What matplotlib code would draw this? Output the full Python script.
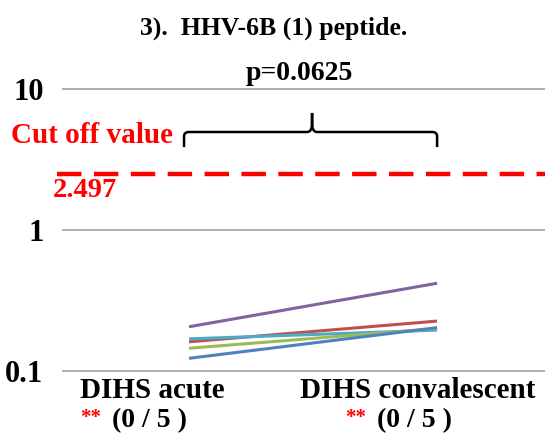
import numpy as np
import matplotlib
matplotlib.use("Agg")
import matplotlib.pyplot as plt
from matplotlib.path import Path
from matplotlib.patches import PathPatch
from matplotlib.transforms import blended_transform_factory

# data
categories = ["DIHS acute", "DIHS convalescent"]
counts = ["(0 / 5 )", "(0 / 5 )"]
acute = [0.206, 0.161, 0.169, 0.145, 0.123]
convalescent = [0.419, 0.226, 0.195, 0.200, 0.203]
colors = ["#8064A2", "#C0504D", "#4BACC6", "#9BBB59", "#4F81BD"]
cutoff = 2.497
p_value = 0.0625
yticks = [0.1, 1, 10]
ytick_labels = ["0.1", "1", "10"]

W, H = 545, 440
plt.rcParams['font.family'] = ['Liberation Serif', 'DejaVu Serif']
plt.rcParams['font.weight'] = 'bold'


def px(x, y):
    return x / W, 1 - y / H


fig = plt.figure(figsize=(W / 100, H / 100), dpi=100)
ax = fig.add_axes([63 / W, 1 - 371 / H, (W - 63) / W, (371 - 89) / H])
ax.set_yscale('log')
ax.set_ylim(0.1, 10)
ax.set_xlim(-0.508, 1.435)
for s in ax.spines.values():
    s.set_visible(False)
ax.set_xticks([])
ax.set_yticks(yticks)
ax.set_yticklabels(ytick_labels)
ax.yaxis.set_minor_locator(matplotlib.ticker.NullLocator())
ax.tick_params(axis='y', length=0, pad=14, labelsize=22)

# gridlines
for t in yticks:
    ax.axhline(t, color='#A6A6A6', lw=1.3, clip_on=False, zorder=1)

# patient lines
for a, c, col in zip(acute, convalescent, colors):
    ax.plot([0, 1], [a, c], color=col, lw=2.2, solid_capstyle='butt', zorder=3)

# cut off line
ax.axhline(cutoff, xmin=-0.012, xmax=1.0, color='#FF0000', lw=3.2,
           dashes=(5.5, 2.8), clip_on=False, zorder=2)

# brace over the two groups
tr = blended_transform_factory(ax.transData, ax.transAxes)
x0, xm, x1 = -0.02, 0.496, 1.0
yb, yh, yt = 0.794, 0.8475, 0.915
verts = [(x0, yb), (x0, yh - 0.015), (x0, yh), (x0 + 0.02, yh),
         (xm - 0.02, yh), (xm, yh), (xm, yh + 0.03), (xm, yt),
         (xm, yh + 0.03), (xm, yh), (xm + 0.02, yh),
         (x1 - 0.02, yh), (x1, yh), (x1, yh - 0.015), (x1, yb)]
codes = [Path.MOVETO, Path.LINETO, Path.CURVE3, Path.CURVE3,
         Path.LINETO, Path.CURVE3, Path.CURVE3, Path.LINETO,
         Path.LINETO, Path.CURVE3, Path.CURVE3,
         Path.LINETO, Path.CURVE3, Path.CURVE3, Path.LINETO]
ax.add_patch(PathPatch(Path(verts, codes), transform=tr, fill=False,
                       lw=1.8, edgecolor='black', clip_on=False))

# texts
fig.text(*px(274, 28), "3).  HHV-6B (1) peptide.", ha='center', va='center',
         fontsize=18.5)
fig.text(*px(299, 73), f"p={p_value}", ha='center', va='center', fontsize=20)
fig.text(*px(11, 135), "Cut off value", ha='left', va='center',
         fontsize=21, color='#FF0000')
fig.text(*px(53, 190), f"{cutoff}", ha='left', va='center',
         fontsize=20.5, color='#FF0000')

cat_x = [80, 300]
star_x = [80, 345]
for i in range(2):
    fig.text(*px(cat_x[i], 390), categories[i], ha='left', va='center',
             fontsize=21)
    fig.text(*px(star_x[i], 418), "**", ha='left', va='center',
             fontsize=15, color='#FF0000')
    fig.text(*px(star_x[i] + 32, 421), counts[i], ha='left', va='center',
             fontsize=20)

fig.savefig("out.png", dpi=100)
